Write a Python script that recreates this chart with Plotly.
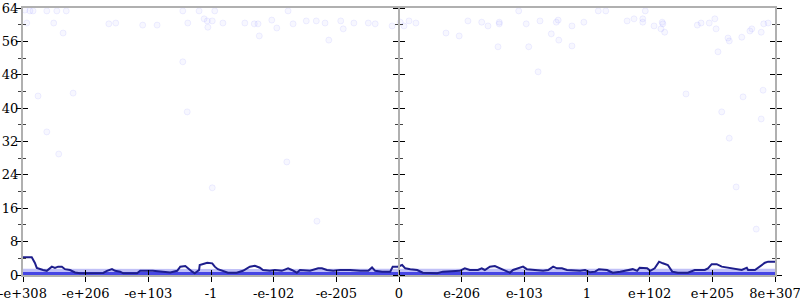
import plotly.graph_objects as go

# ---- tick labels (x axis is a symbolic scale of float magnitudes) ----
x_tick_pos = [0, 1, 2, 3, 4, 5, 6, 7, 8, 9, 10, 11, 12]
x_tick_text = ["-e+308", "-e+206", "-e+103", "-1", "-e-102", "-e-205", "0",
               "e-206", "e-103", "1", "e+102", "e+205", "8e+307"]
y_tick_vals = [0, 8, 16, 24, 32, 40, 48, 56, 64]
y_minor_vals = [4, 12, 20, 28, 36, 44, 52, 60]

# ---- running average line ----
avg_x = [0.00, 0.14, 0.19, 0.22, 0.32, 0.38, 0.46, 0.51, 0.56, 0.62, 0.67, 0.75, 0.83, 0.91,
         1.28, 1.34, 1.42, 1.47, 1.55, 1.60, 1.82, 1.87, 2.07, 2.19, 2.35, 2.46, 2.51, 2.59,
         2.63, 2.70, 2.74, 2.81, 2.82, 2.94, 3.02, 3.06, 3.11, 3.19, 3.27, 3.41, 3.51, 3.62,
         3.70, 3.78, 3.83, 3.94, 4.02, 4.13, 4.23, 4.29, 4.37, 4.42, 4.58, 4.71, 4.77, 4.85,
         4.95, 5.06, 5.22, 5.38, 5.51, 5.57, 5.62, 5.73, 5.86, 5.90, 5.98, 6.05, 6.10, 6.18,
         6.29, 6.38, 6.61, 6.70, 6.97, 7.05, 7.13, 7.26, 7.32, 7.37, 7.45, 7.53, 7.61, 7.69,
         7.77, 7.82, 7.90, 7.98, 8.04, 8.14, 8.30, 8.38, 8.46, 8.52, 8.60, 8.68, 8.81, 8.89,
         8.97, 9.05, 9.13, 9.19, 9.32, 9.41, 9.53, 9.64, 9.73, 9.80, 9.84, 9.96, 10.01, 10.08,
         10.15, 10.21, 10.29, 10.36, 10.45, 10.61, 10.72, 10.88, 10.93, 10.99, 11.07, 11.15,
         11.25, 11.36, 11.47, 11.55, 11.57, 11.68, 11.76, 11.84, 11.89, 12.00]
avg_y = [4.24, 4.24, 2.9, 1.7, 1.2, 1.0, 2.0, 1.7, 2.0, 2.0, 1.4, 1.2, 0.6, 0.4,
         0.5, 1.0, 1.4, 1.0, 0.8, 0.4, 0.4, 1.0, 1.0, 0.8, 0.6, 1.0, 2.0, 2.15,
         1.6, 0.8, 0.4, 1.2, 2.4, 2.95, 2.8, 2.0, 1.4, 1.0, 0.55, 0.55, 1.0, 2.0,
         2.2, 1.75, 1.2, 1.0, 1.2, 1.0, 1.6, 1.2, 0.55, 1.2, 1.0, 1.6, 1.6, 1.2,
         1.0, 1.2, 1.2, 1.0, 1.0, 1.8, 1.0, 0.8, 0.8, 2.0, 2.0, 2.4, 1.6, 1.4,
         1.2, 0.55, 0.4, 0.8, 1.0, 1.6, 1.2, 1.2, 1.6, 1.2, 2.0, 2.15, 1.6, 1.2,
         0.55, 1.2, 1.6, 2.0, 1.4, 1.2, 1.0, 1.2, 2.0, 1.6, 1.6, 1.2, 1.0, 1.0,
         1.2, 0.65, 0.8, 1.4, 1.2, 0.55, 0.8, 1.2, 1.4, 1.0, 1.75, 1.6, 1.0, 1.6,
         3.2, 2.8, 2.4, 0.8, 0.55, 0.55, 1.2, 1.2, 1.6, 2.6, 2.6, 2.0,
         1.8, 1.6, 1.2, 1.75, 1.2, 1.2, 2.15, 2.95, 3.2, 3.2]

# ---- sparse individual samples (outliers) ----
pts_x = [0.03, 0.11, 0.16, 0.38, 0.54, 0.69, 0.06, 0.49, 0.64, 1.37, 1.48, 1.91, 2.14, 2.55,
         2.63, 2.55, 0.24, 0.80, 2.81, 3.06, 2.89, 2.94, 3.02, 2.95, 3.19, 3.54, 3.69, 3.75,
         3.97, 4.05, 3.77, 4.23, 4.31, 4.52, 4.68, 4.82, 5.07, 5.11, 4.88, 5.28, 5.51, 5.62,
         5.89, 6.02, 6.08, 6.16, 6.27, 6.75, 6.96, 7.10, 7.32, 7.42, 7.60, 7.60, 7.91, 8.03,
         8.25, 8.51, 8.54, 8.43, 8.55, 8.76, 8.95, 9.18, 9.30, 9.64, 9.75, 9.89, 9.89, 9.93,
         10.07, 10.20, 10.21, 10.18, 10.24, 10.76, 10.82, 7.58, 8.07, 8.76, 8.22, 10.58,
         10.95, 11.04, 11.06, 11.25, 11.27, 11.47, 11.60, 11.63, 11.78, 11.82, 11.89, 11.09,
         11.81, 11.49, 0.38, 0.57, 2.62, 4.21, 3.02, 11.15, 11.78, 11.27, 11.38, 4.69, 11.70]
pts_y = [63.5, 63.3, 63.3, 63.3, 63.3, 63.3, 60.4, 60.4, 58.0, 60.2, 60.4, 59.9, 59.9, 63.3,
         60.4, 51.1, 42.9, 43.6, 63.3, 63.3, 61.4, 60.9, 60.9, 59.4, 60.4, 60.4, 60.2, 60.2,
         61.1, 59.2, 57.3, 63.3, 60.2, 60.9, 60.9, 60.4, 60.9, 59.0, 56.3, 60.4, 60.4, 60.2,
         59.7, 60.6, 59.7, 60.9, 60.4, 58.0, 57.3, 60.9, 60.6, 59.7, 60.6, 60.2, 63.3, 60.2,
         60.9, 60.6, 61.1, 57.8, 56.3, 59.7, 60.6, 63.3, 63.3, 60.9, 61.4, 61.4, 60.6, 63.3,
         59.7, 60.6, 60.2, 59.0, 58.2, 59.9, 60.4, 54.7, 54.7, 54.9, 48.7, 43.4,
         60.4, 61.4, 59.0, 56.8, 56.1, 57.0, 58.5, 59.0, 58.2, 60.2, 60.4, 53.5,
         44.3, 42.7, 34.3, 29.0, 39.1, 27.1, 20.9, 39.1, 37.4, 32.8, 21.1, 12.9, 11.0]

# ---- dense band of samples near zero (envelope) ----
band_x = [0, 1, 2, 3, 4, 5, 6, 7, 8, 9, 10, 11, 12]
band_top = [1.5, 1.45, 1.5, 1.5, 1.45, 1.5, 1.5, 1.45, 1.5, 1.45, 1.5, 1.5, 1.5]
core_level = [0.25, 0.25, 0.25, 0.25, 0.25, 0.25, 0.25, 0.25, 0.25, 0.25, 0.25, 0.25, 0.25]

FONT = "DejaVu Serif"
AXIS_GREY = "#b0b0b0"

fig = go.Figure()
fig.add_trace(go.Scatter(x=band_x, y=band_top, mode="lines", fill="tozeroy",
                         line=dict(width=0, color="rgba(0,0,0,0)"),
                         fillcolor="rgba(140,140,240,0.55)", hoverinfo="skip"))
fig.add_trace(go.Scatter(x=pts_x, y=pts_y, mode="markers",
                         marker=dict(size=6, color="rgba(90,90,255,0.05)",
                                     line=dict(width=1, color="rgba(90,90,255,0.09)"))))
fig.add_trace(go.Scatter(x=band_x, y=core_level, mode="lines",
                         line=dict(width=4, color="#4646e4"), hoverinfo="skip"))
fig.add_trace(go.Scatter(x=avg_x, y=avg_y, mode="lines",
                         line=dict(width=2, color="#1e1e8c")))


def yaxis(side, ticks, anchor="x", position=None, labels=False, overlay=True):
    d = dict(range=[0, 64], tickvals=y_tick_vals, showgrid=False, zeroline=False,
             showline=True, linecolor=AXIS_GREY, linewidth=2,
             tickcolor="#000", tickwidth=1, ticklen=5, ticks=ticks, side=side,
             automargin=False, showticklabels=labels, ticklabeloverflow="allow",
             tickfont=dict(family=FONT, size=13, color="#000"),
             minor=dict(tickvals=y_minor_vals, ticklen=3, tickcolor="#444",
                        tickwidth=1, ticks=ticks))
    if anchor == "free":
        d["anchor"] = "free"
        d["position"] = position
    else:
        d["anchor"] = anchor
    if overlay:
        d["overlaying"] = "y"
    return d


fig.update_layout(
    template="none",
    width=800, height=300,
    margin=dict(l=23, r=25, t=8, b=25, pad=0),
    paper_bgcolor="white", plot_bgcolor="white",
    showlegend=False,
    font=dict(family=FONT, size=13, color="#000"),
    xaxis=dict(range=[0, 12], tickvals=x_tick_pos, ticktext=x_tick_text,
               showgrid=False, zeroline=False, showline=True, mirror=True,
               linecolor=AXIS_GREY, linewidth=2, ticks="outside", ticklen=5,
               tickcolor="#000", tickwidth=1, automargin=False,
               ticklabeloverflow="allow",
               tickfont=dict(family=FONT, size=13, color="#000")),
    xaxis2=dict(range=[0, 12], tickvals=x_tick_pos, overlaying="x", side="bottom",
                anchor="y", showgrid=False, zeroline=False, showline=False,
                ticks="inside", ticklen=5, tickcolor="#000", tickwidth=1,
                showticklabels=False, automargin=False),
    yaxis=yaxis("left", "outside", overlay=False),
    yaxis2=yaxis("left", "inside", labels=True),
    yaxis3=yaxis("right", "outside"),
    yaxis4=yaxis("right", "inside"),
    yaxis5=yaxis("left", "outside", anchor="free", position=0.5),
    yaxis6=yaxis("right", "outside", anchor="free", position=0.5),
)

# invisible placeholder traces so overlay axes are rendered
for ax in ["y2", "y3", "y4", "y5", "y6"]:
    fig.add_trace(go.Scatter(x=[None], y=[None], yaxis=ax, xaxis="x",
                             mode="markers", showlegend=False, hoverinfo="skip"))
fig.add_trace(go.Scatter(x=[None], y=[None], xaxis="x2", yaxis="y",
                         mode="markers", showlegend=False, hoverinfo="skip"))

fig.write_html("out.html")
